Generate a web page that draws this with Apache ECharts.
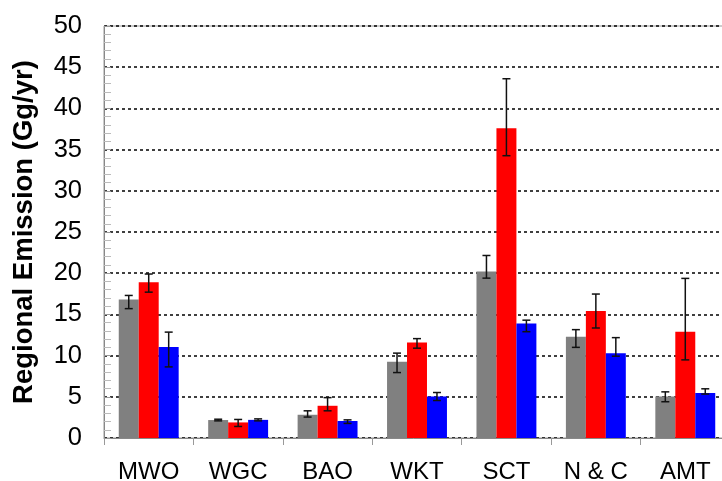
<!DOCTYPE html>
<html><head><meta charset="utf-8">
<script src="https://cdn.jsdelivr.net/npm/echarts@6/dist/echarts.min.js"></script>
<style>html,body{margin:0;padding:0;background:#fff}#c{width:722px;height:481px}</style>
</head><body><div id="c"></div>
<script>
const categories = ['MWO', 'WGC', 'BAO', 'WKT', 'SCT', 'N & C', 'AMT'];
const seriesNames = ['Gray', 'Red', 'Blue'];
const grayValues = [16.8, 2.18, 2.82, 9.24, 20.2, 12.3, 5.04];
const redValues = [18.9, 1.89, 3.91, 11.58, 37.6, 15.4, 12.9];
const blueValues = [11.05, 2.2, 2.06, 5.04, 13.9, 10.3, 5.45];
const grayErrLow = [15.7, 2.08, 2.54, 7.94, 19.4, 11.0, 4.4];
const grayErrHigh = [17.3, 2.28, 3.3, 10.3, 22.15, 13.15, 5.6];
const redErrLow = [17.7, 1.4, 3.3, 10.9, 34.26, 13.35, 9.48];
const redErrHigh = [19.9, 2.25, 4.9, 12.06, 43.6, 17.47, 19.37];
const blueErrLow = [8.63, 2.08, 1.77, 4.55, 12.9, 9.93, 5.33];
const blueErrHigh = [12.85, 2.32, 2.2, 5.52, 14.3, 12.18, 5.97];
const yTicks = [0, 5, 10, 15, 20, 25, 30, 35, 40, 45, 50];

const colors = ['#808080', '#ff0000', '#0000ff'];
const values = [grayValues, redValues, blueValues];
const lows = [grayErrLow, redErrLow, blueErrLow];
const highs = [grayErrHigh, redErrHigh, blueErrHigh];
const CAT_GAP = 0.33;
const FONT = '"Liberation Sans", Arial, sans-serif';

const chart = echarts.init(document.getElementById('c'), null, {renderer: 'canvas'});

const barSeries = values.map((v, i) => ({
  name: seriesNames[i], type: 'bar', data: v,
  barGap: '0%', barCategoryGap: (CAT_GAP * 100) + '%',
  itemStyle: {color: colors[i]}, silent: true, z: 2
}));

const errSeries = values.map((v, i) => ({
  type: 'custom', silent: true, z: 5,
  data: categories.map((c, k) => [k, lows[i][k], highs[i][k]]),
  renderItem: function (params, api) {
    const k = api.value(0);
    const lo = api.coord([k, api.value(1)]);
    const hi = api.coord([k, api.value(2)]);
    const band = api.size([1, 0])[0];
    const bw = band * (1 - CAT_GAP) / 3;
    const x = lo[0] + (i - 1) * bw;
    const cap = 4;
    const style = {stroke: '#111', lineWidth: 1.5};
    return {type: 'group', children: [
      {type: 'line', shape: {x1: x, y1: lo[1], x2: x, y2: hi[1]}, style: style},
      {type: 'line', shape: {x1: x - cap, y1: lo[1], x2: x + cap, y2: lo[1]}, style: style},
      {type: 'line', shape: {x1: x - cap, y1: hi[1], x2: x + cap, y2: hi[1]}, style: style}
    ]};
  }
}));

chart.setOption({
  animation: false,
  backgroundColor: '#fff',
  grid: {left: 104, top: 26, width: 626, bottom: 43, outerBoundsMode: 'none', containLabel: false,
    show: true, borderColor: '#999', borderWidth: 1, backgroundColor: 'transparent'},
  xAxis: {
    type: 'category', data: categories,
    axisLine: {lineStyle: {color: '#888', width: 1}},
    axisTick: {show: true, length: 7, lineStyle: {color: '#999'}},
    axisLabel: {color: '#000', fontSize: 24, fontFamily: FONT, margin: 22}
  },
  yAxis: {
    type: 'value', min: yTicks[0], max: yTicks[yTicks.length - 1], interval: 5,
    name: 'Regional Emission (Gg/yr)', nameLocation: 'middle', nameGap: 66,
    nameTextStyle: {color: '#000', fontSize: 27.5, fontWeight: 'bold', fontFamily: FONT},
    axisLine: {show: true, lineStyle: {color: '#888', width: 1}},
    axisTick: {show: true, inside: true, length: 7, lineStyle: {color: '#999'}},
    minorTick: {show: true, splitNumber: 5, length: 7, lineStyle: {color: '#bbb'}},
    axisLabel: {color: '#000', fontSize: 25.5, fontFamily: FONT, margin: 22,
      formatter: v => (yTicks.indexOf(v) >= 0 ? String(v) : '')},
    splitLine: {show: true, lineStyle: {color: '#000', type: [3, 3], width: 1.5}}
  },
  series: barSeries.concat(errSeries)
});
</script></body></html>
